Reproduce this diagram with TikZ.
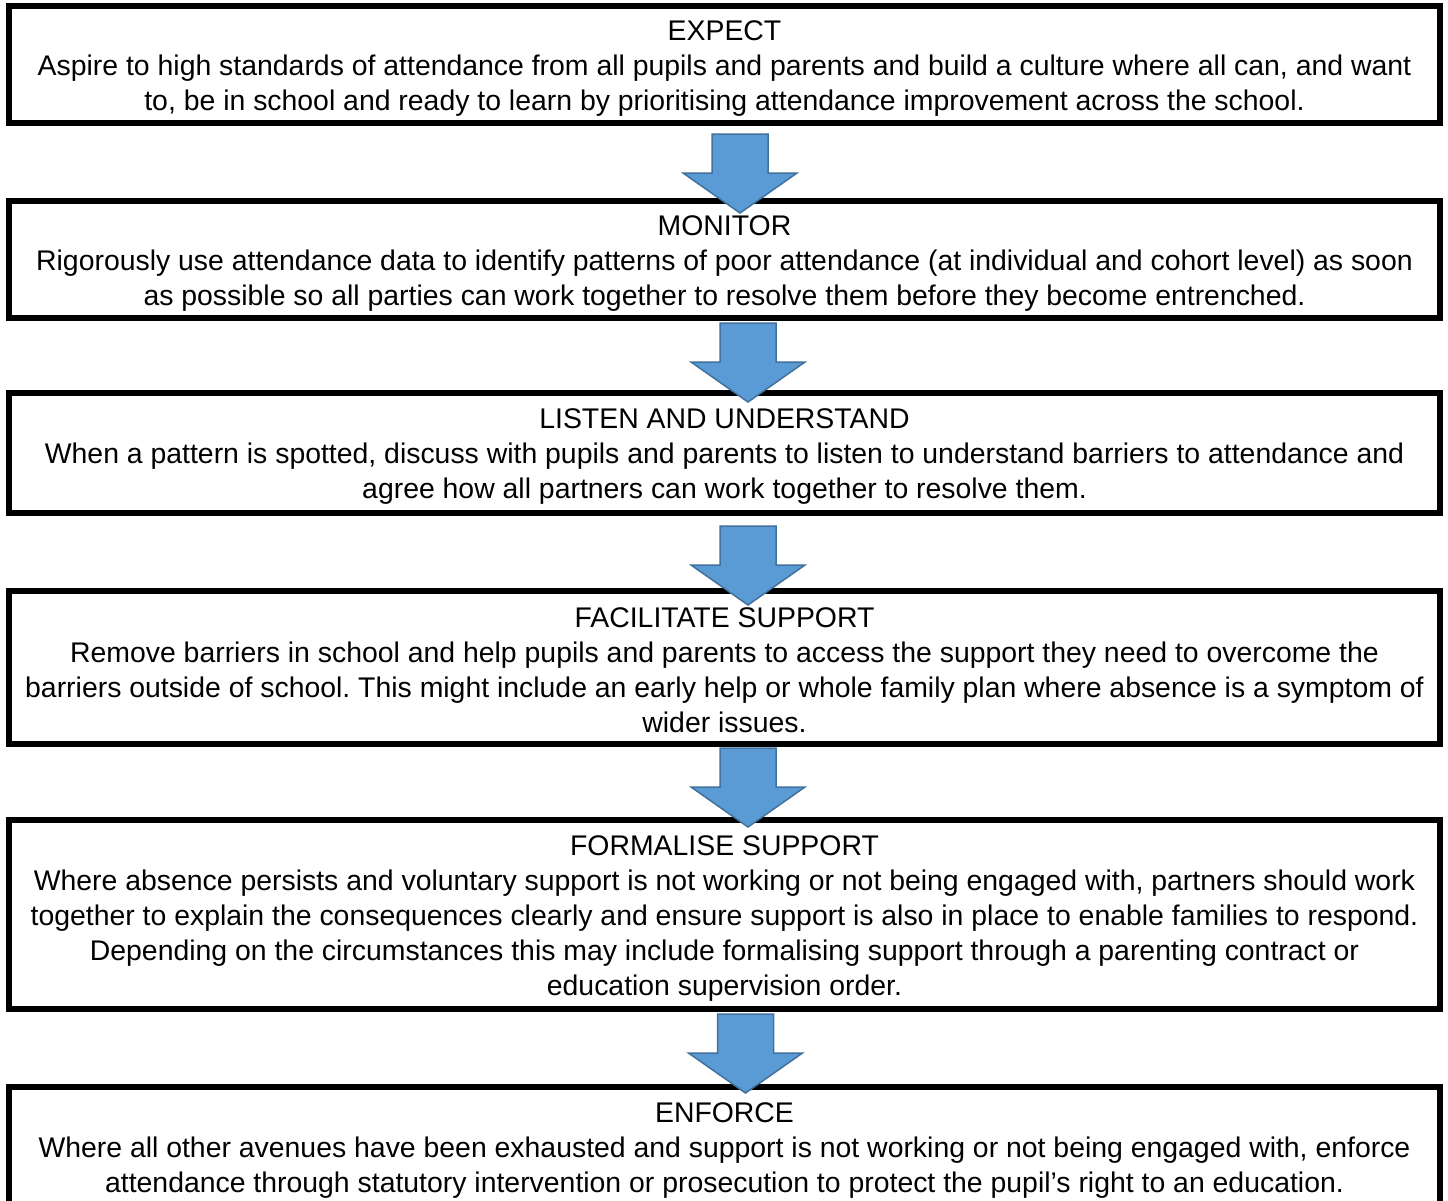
\documentclass[tikz,border=0pt]{standalone}
\usepackage{fontspec}
\setmainfont{Liberation Sans}
\frenchspacing
\definecolor{arrowfill}{HTML}{5B9BD5}
\definecolor{arrowline}{HTML}{41719C}
\begin{document}
\begin{tikzpicture}[x=1pt,y=1pt,
  stepbox/.style={draw=black,line width=6pt,fill=white,minimum width=1431pt,inner sep=0pt},
  steptext/.style={align=center,inner sep=0pt,font=\fontsize{28.4}{35}\selectfont},
  downarrow/.pic={\filldraw[fill=arrowfill,draw=arrowline,line width=1.5pt,line join=miter]
    (-28,0) -- (28,0) -- (28,-39) -- (57,-39) -- (0,-79) -- (-57,-39) -- (-28,-39) -- cycle;}
]
\useasboundingbox (0,0) rectangle (1448,-1200);
\clip (0,0) rectangle (1448,-1200);
\fill[white] (0,0) rectangle (1448,-1200);

\node[stepbox,minimum height=117pt] (b1) at (724.5,-64.5) {};
\node[steptext] (t1) at ([yshift=-4pt]b1.center)
 {EXPECT\\Aspire to high standards of attendance from all pupils and parents and build a culture where all can, and want\\to, be in school and ready to learn by prioritising attendance improvement across the school.};

\node[stepbox,minimum height=117pt] (b2) at (724.5,-259.5) {};
\node[steptext] (t2) at ([yshift=-4pt]b2.center)
 {MONITOR\\Rigorously use attendance data to identify patterns of poor attendance (at individual and cohort level) as soon\\as possible so all parties can work together to resolve them before they become entrenched.};

\node[stepbox,minimum height=120pt] (b3) at (724.5,-453) {};
\node[steptext] (t3) at ([yshift=-4pt]b3.center)
 {LISTEN AND UNDERSTAND\\When a pattern is spotted, discuss with pupils and parents to listen to understand barriers to attendance and\\agree how all partners can work together to resolve them.};

\node[stepbox,minimum height=153pt] (b4) at (724.5,-667.5) {};
\node[steptext] (t4) at ([yshift=-3pt]b4.center)
 {FACILITATE SUPPORT\\Remove barriers in school and help pupils and parents to access the support they need to overcome the\\barriers outside of school. This might include an early help or whole family plan where absence is a symptom of\\wider issues.};

\node[stepbox,minimum height=189pt] (b5) at (724.5,-914.5) {};
\node[steptext] (t5) at ([yshift=-4pt]b5.center)
 {FORMALISE SUPPORT\\Where absence persists and voluntary support is not working or not being engaged with, partners should work\\together to explain the consequences clearly and ensure support is also in place to enable families to respond.\\Depending on the circumstances this may include formalising support through a parenting contract or\\education supervision order.};

\node[stepbox,minimum height=122pt] (b6) at (724.5,-1148) {};
\node[steptext] (t6) at ([yshift=-3pt]b6.center)
 {ENFORCE\\Where all other avenues have been exhausted and support is not working or not being engaged with, enforce\\attendance through statutory intervention or prosecution to protect the pupil’s right to an education.};

\pic (a1) at (740,-134) {downarrow};
\pic (a2) at (748,-323) {downarrow};
\pic (a3) at (748,-526) {downarrow};
\pic (a4) at (748,-748) {downarrow};
\pic (a5) at (745.5,-1014) {downarrow};
\end{tikzpicture}
\end{document}
